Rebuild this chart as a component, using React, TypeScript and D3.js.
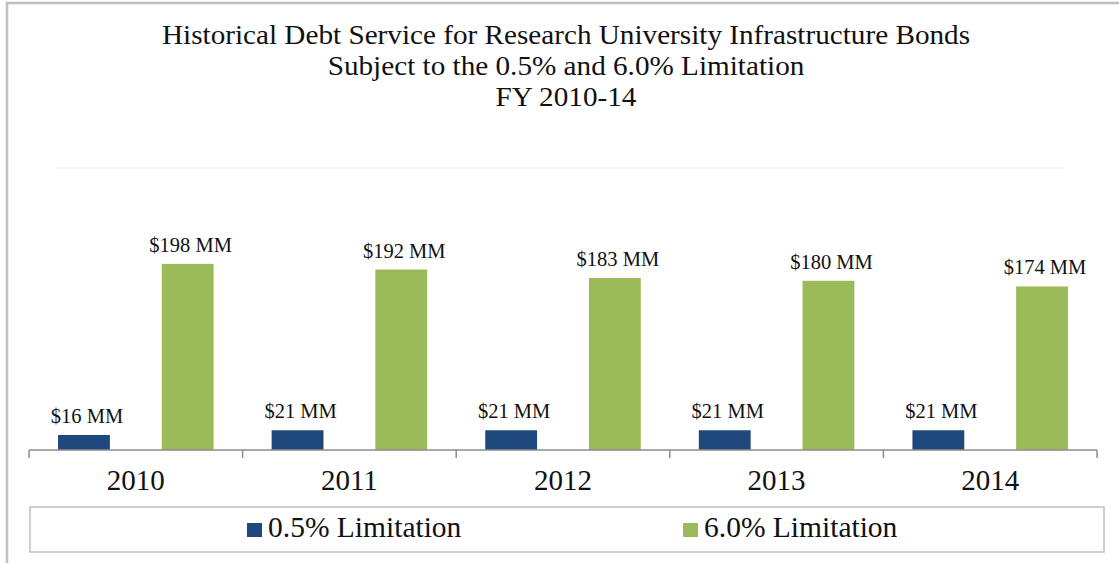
import React from "react";
import { scaleBand, scaleLinear } from "d3";

const years = ["2010", "2011", "2012", "2013", "2014"];
const seriesNames = ["0.5% Limitation", "6.0% Limitation"];
const limit05 = [16, 21, 21, 21, 21];
const limit60 = [198, 192, 183, 180, 174];
const titleLines = [
  "Historical Debt Service for Research University Infrastructure Bonds",
  "Subject to the 0.5% and 6.0% Limitation",
  "FY 2010-14",
];

const colors = ["#1F497D", "#9BBB59"];
const font = "'Liberation Serif', 'Times New Roman', serif";

const width = 1119;
const height = 563;
const plotLeft = 29;
const plotRight = 1097;
const plotTop = 168;
const plotBottom = 450;

const App = () => {
  const x0 = scaleBand().domain(years).range([plotLeft, plotRight]);
  const x1 = scaleBand()
    .domain(seriesNames)
    .range([0, x0.bandwidth()])
    .paddingInner(0.5)
    .paddingOuter(0.28);
  const y = scaleLinear().domain([0, 300]).range([plotBottom, plotTop]);

  const series = [limit05, limit60];
  const tickXs = years.map((yr) => x0(yr)).concat([plotRight]);

  return (
    <svg
      width={width}
      height={height}
      style={{ position: "absolute", left: 0, top: 0, background: "#fff" }}
    >
      {/* outer frame (only top and left edges are visible) */}
      <line x1={6} x2={width} y1={3} y2={3} stroke="#c0c0c0" strokeWidth={2.5} />
      <line x1={7} x2={7} y1={2} y2={height} stroke="#c0c0c0" strokeWidth={2.5} />

      {/* title, slightly widened like the original */}
      <g transform="translate(566,0) scale(1.05,1)">
        {titleLines.map((t, i) => (
          <text
            key={t}
            x={0}
            y={44 + i * 31}
            textAnchor="middle"
            fontFamily={font}
            fontSize={27.8}
            fill="#111"
          >
            {t}
          </text>
        ))}
      </g>

      {/* faint plot area top edge */}
      <line x1={55} x2={1065} y1={plotTop} y2={plotTop} stroke="#f3f3f3" strokeWidth={1.5} />

      {series.map((vals, si) =>
        years.map((yr, i) => {
          const bx = (x0(yr) ?? 0) + (x1(seriesNames[si]) ?? 0);
          const by = y(vals[i]);
          return (
            <g key={`${si}-${yr}`}>
              <rect
                x={bx}
                y={by}
                width={x1.bandwidth()}
                height={plotBottom - by}
                fill={colors[si]}
              />
              <text
                x={bx + x1.bandwidth() / 2 + 3}
                y={by - 12}
                textAnchor="middle"
                fontFamily={font}
                fontSize={20.5}
                fill="#111"
              >
                {`$${vals[i]} MM`}
              </text>
            </g>
          );
        })
      )}

      {/* category axis */}
      <line x1={plotLeft} x2={plotRight} y1={plotBottom} y2={plotBottom} stroke="#8c8c8c" strokeWidth={1.5} />
      {tickXs.map((tx, i) => (
        <line key={i} x1={tx} x2={tx} y1={plotBottom} y2={plotBottom + 8} stroke="#8c8c8c" strokeWidth={1.5} />
      ))}
      {years.map((yr) => (
        <text
          key={yr}
          x={(x0(yr) ?? 0) + x0.bandwidth() / 2}
          y={490}
          textAnchor="middle"
          fontFamily={font}
          fontSize={29}
          fill="#111"
        >
          {yr}
        </text>
      ))}

      {/* legend */}
      <rect x={30} y={507} width={1074} height={45} fill="#fff" stroke="#c0c0c0" strokeWidth={1.5} />
      {seriesNames.map((name, i) => {
        const lx = 247 + i * 436;
        return (
          <g key={name}>
            <rect x={lx} y={523} width={15} height={14} fill={colors[i]} />
            <text x={lx + 21} y={537} fontFamily={font} fontSize={29.5} fill="#111">
              {name}
            </text>
          </g>
        );
      })}
    </svg>
  );
};

export default App;
